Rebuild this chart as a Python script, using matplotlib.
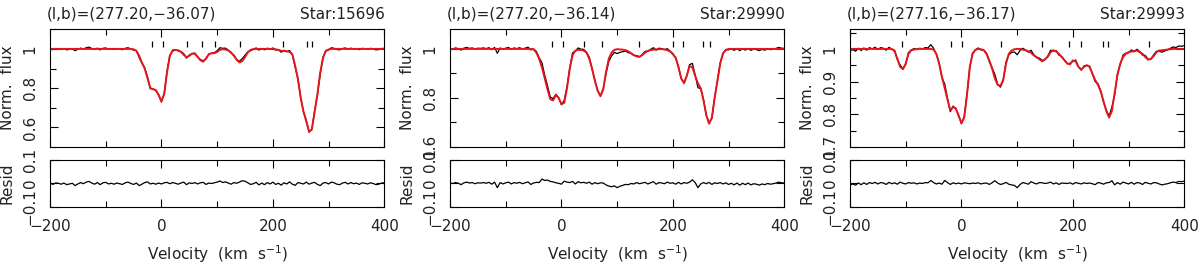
import numpy as np
import matplotlib
matplotlib.use('Agg')
from matplotlib import pyplot as plt
from matplotlib.ticker import MultipleLocator, FuncFormatter

# velocity grid of the spectra (km/s)
vel = np.arange(-200, 401, 5)

titles = ['(l,b)=(277.20,\u221236.07)', '(l,b)=(277.20,\u221236.14)', '(l,b)=(277.16,\u221236.17)']
stars = ['Star:15696', 'Star:29990', 'Star:29993']

# fitted model (red)
model_15696 = [1.0, 1.0, 1.0, 1.0, 1.0, 1.0, 1.0, 1.0, 1.0, 1.0,
               1.0, 1.0, 1.0, 1.0, 1.0, 1.0, 1.0, 1.0, 1.0, 1.0,
               1.0, 1.0, 1.0, 1.0, 1.0, 1.0, 1.0, 1.0, 1.0, 1.0,
               0.998, 0.99, 0.965, 0.93, 0.90, 0.85, 0.80, 0.795, 0.79, 0.765,
               0.732, 0.77, 0.88, 0.965, 0.99, 0.995, 0.993, 0.985, 0.97, 0.958,
               0.965, 0.976, 0.975, 0.96, 0.942, 0.935, 0.952, 0.972, 0.978, 0.978,
               0.985, 0.995, 0.999, 0.997, 0.992, 0.982, 0.965, 0.945, 0.931, 0.938,
               0.958, 0.982, 0.995, 0.999, 1.0, 1.0, 1.0, 1.0, 1.0, 1.0,
               0.999, 0.998, 0.995, 0.99, 0.99, 0.988, 0.985, 0.972, 0.915, 0.845,
               0.75, 0.68, 0.63, 0.578, 0.59, 0.68, 0.77, 0.88, 0.955, 0.988,
               0.997, 1.0, 1.0, 1.0, 1.0, 1.0, 1.0, 1.0, 1.0, 1.0,
               1.0, 1.0, 1.0, 1.0, 1.0, 1.0, 1.0, 1.0, 1.0, 1.0,
               1.0]
model_29990 = [1.0, 1.0, 1.0, 1.0, 1.0, 1.0, 1.0, 1.0, 1.0, 1.0,
               1.0, 1.0, 1.0, 1.0, 1.0, 1.0, 1.0, 1.0, 1.0, 1.0,
               1.0, 1.0, 1.0, 1.0, 1.0, 1.0, 1.0, 1.0, 1.0, 1.0,
               0.998, 0.985, 0.96, 0.925, 0.88, 0.835, 0.795, 0.79, 0.812, 0.80,
               0.775, 0.78, 0.84, 0.92, 0.975, 0.993, 0.996, 0.996, 0.993, 0.985,
               0.96, 0.92, 0.87, 0.83, 0.807, 0.835, 0.905, 0.96, 0.985, 0.996,
               0.999, 0.998, 0.997, 0.995, 0.99, 0.982, 0.975, 0.969, 0.968, 0.975,
               0.985, 0.992, 0.995, 0.997, 0.998, 0.999, 0.999, 0.998, 0.995, 0.99,
               0.978, 0.965, 0.925, 0.88, 0.86, 0.89, 0.93, 0.925, 0.89, 0.86,
               0.84, 0.79, 0.73, 0.695, 0.72, 0.80, 0.87, 0.94, 0.982, 0.995,
               1.0, 1.0, 1.0, 1.0, 1.0, 1.0, 1.0, 1.0, 1.0, 1.0,
               1.0, 1.0, 1.0, 1.0, 1.0, 1.0, 1.0, 1.0, 1.0, 1.0,
               1.0]
model_29993 = [1.0, 1.0, 1.0, 1.0, 1.0, 1.0, 1.0, 1.0, 1.0, 1.0,
               1.0, 1.0, 1.0, 1.0, 1.0, 1.0, 0.993, 0.97, 0.945, 0.938,
               0.955, 0.985, 0.996, 0.998, 1.0, 1.0, 1.0, 1.0, 1.0, 1.0,
               0.998, 0.985, 0.955, 0.915, 0.88, 0.845, 0.812, 0.822, 0.818, 0.795,
               0.773, 0.79, 0.86, 0.945, 0.985, 0.997, 1.0, 0.999, 0.996, 0.985,
               0.965, 0.94, 0.91, 0.89, 0.887, 0.905, 0.955, 0.985, 0.995, 0.999,
               1.0, 1.0, 0.998, 0.996, 0.993, 0.988, 0.98, 0.975, 0.968, 0.962,
               0.968, 0.976, 0.99, 0.996, 0.992, 0.985, 0.975, 0.965, 0.955, 0.953,
               0.965, 0.962, 0.945, 0.937, 0.945, 0.95, 0.945, 0.925, 0.905, 0.89,
               0.87, 0.84, 0.81, 0.79, 0.81, 0.865, 0.92, 0.955, 0.975, 0.985,
               0.99, 0.992, 0.994, 0.995, 0.99, 0.985, 0.975, 0.967, 0.97, 0.978,
               0.99, 0.995, 0.996, 0.997, 0.998, 0.999, 1.0, 1.0, 1.0, 1.0,
               1.0]

# residuals (data - model)
resid_15696 = [0.003, -0.004, 0.002, 0.001, -0.003, 0.002, -0.005, -0.002, 0.001, -0.009,
               -0.002, 0.004, -0.001, 0.006, 0.009, 0.002, -0.003, 0.004, -0.005, 0.003,
               0.005, -0.002, 0.001, -0.003, 0.002, -0.001, -0.004, 0.003, 0.006, 0.000,
               -0.004, 0.002, -0.009, -0.003, 0.004, 0.007, -0.002, 0.001, -0.003, 0.002,
               -0.002, 0.003, 0.005, -0.001, 0.004, 0.001, -0.003, 0.002, 0.006, -0.005,
               0.003, 0.000, 0.004, -0.002, 0.003, 0.005, -0.004, 0.002, 0.000, 0.003,
               0.006, 0.011, 0.004, 0.007, 0.002, -0.003, 0.004, 0.001, 0.006, 0.012,
               0.010, 0.003, -0.004, -0.001, 0.005, -0.006, 0.002, -0.005, 0.004, -0.002,
               0.006, -0.004, 0.001, -0.007, 0.003, -0.002, 0.007, -0.003, -0.008, 0.004,
               0.001, -0.002, 0.006, -0.003, 0.002, 0.005, -0.004, -0.009, 0.002, 0.004,
               -0.002, 0.006, 0.003, -0.003, -0.005, 0.002, 0.005, -0.002, 0.004, -0.001,
               0.002, -0.004, 0.003, 0.001, -0.002, 0.003, 0.000, -0.005, -0.003, 0.002,
               0.003]
resid_29990 = [0.002, 0.000, 0.004, 0.001, -0.005, 0.003, 0.006, 0.002, 0.004, -0.001,
               0.003, 0.002, 0.004, 0.001, 0.005, -0.003, 0.006, -0.018, 0.004, -0.002,
               0.003, 0.006, -0.002, 0.004, 0.001, 0.005, -0.001, 0.003, 0.007, -0.004,
               0.002, 0.005, 0.004, 0.019, 0.013, 0.015, 0.009, 0.007, 0.003, 0.001,
               -0.003, 0.010, 0.006, 0.004, 0.009, -0.002, 0.008, 0.003, 0.005, 0.001,
               0.006, -0.003, 0.004, -0.001, 0.003, 0.002, -0.006, -0.011, -0.014, -0.010,
               -0.018, -0.012, -0.008, -0.004, -0.005, 0.000, -0.002, 0.004, -0.001, 0.002,
               0.005, -0.002, 0.003, 0.008, -0.003, 0.004, 0.002, -0.001, 0.006, 0.001,
               0.003, -0.003, 0.005, -0.002, 0.004, 0.001, 0.006, 0.016, 0.004, -0.018,
               -0.002, 0.004, -0.001, 0.005, -0.004, 0.003, 0.000, 0.004, -0.002, 0.003,
               -0.004, 0.001, -0.006, 0.002, -0.007, 0.001, -0.005, 0.002, -0.006, -0.001,
               -0.003, -0.007, -0.002, -0.005, 0.000, -0.003, -0.001, 0.002, 0.006, 0.003,
               0.002]
resid_29993 = [-0.006, -0.002, -0.007, 0.002, -0.005, 0.003, -0.004, 0.004, 0.000, 0.005,
               -0.002, 0.004, 0.002, -0.004, 0.005, -0.001, 0.003, -0.003, 0.006, 0.001,
               -0.002, 0.004, 0.001, 0.003, -0.002, 0.002, 0.000, 0.004, 0.003, 0.013,
               0.004, -0.002, 0.002, -0.003, 0.013, 0.004, -0.004, 0.003, -0.001, 0.002,
               -0.002, 0.003, 0.001, -0.001, 0.002, 0.000, 0.003, -0.002, 0.001, 0.002,
               -0.004, 0.003, 0.012, 0.002, -0.004, -0.001, 0.005, -0.003, -0.006, -0.008,
               -0.018, -0.005, 0.004, 0.001, -0.003, 0.008, 0.002, -0.002, 0.004, 0.003,
               0.000, 0.002, 0.006, -0.002, 0.003, -0.004, 0.002, 0.001, 0.000, 0.003,
               -0.003, 0.004, 0.001, -0.002, 0.003, 0.000, 0.002, -0.001, -0.005, 0.004,
               0.002, -0.003, 0.003, 0.004, 0.012, -0.006, 0.004, -0.003, 0.006, 0.002,
               -0.002, 0.005, -0.003, 0.004, 0.002, -0.004, 0.005, 0.001, -0.002, 0.004,
               0.003, -0.002, -0.006, -0.003, -0.001, 0.003, 0.006, 0.004, 0.009, 0.008,
               0.010]

# velocities of the fitted components (tick marks)
comp_15696 = [-17.5, 2.2, 46.5, 72.8, 95.6, 141.0, 218.8, 260.7, 269.7]
comp_29990 = [-17.5, 3.4, 41.1, 72.2, 139.2, 199.7, 218.8, 253.5, 266.7]
comp_29993 = [-107.3, -18.7, 1.6, 70.4, 145.2, 192.5, 214.6, 254.7, 263.7, 337.3]

models = [model_15696, model_29990, model_29993]
resids = [resid_15696, resid_29990, resid_29993]
comps = [comp_15696, comp_29990, comp_29993]
ylims = [(0.5, 1.1), (0.6, 1.08), (0.7, 1.06)]
ymajor = [0.2, 0.2, 0.1]
yminor = [0.1, 0.1, 0.05]

plt.rcParams['font.family'] = 'DejaVu Sans'
plt.rcParams['font.size'] = 11
txt_col = '#222222'

W, H = 1200., 265.
fig = plt.figure(figsize=(12, 2.65), dpi=100)

def fmt(v, p):
    if abs(v) < 1e-9:
        return '0'
    return ('%g' % round(v, 3)).replace('-', '\u2212')

def style(ax):
    ax.tick_params(which='both', direction='in', top=True, right=True, width=0.8,
                   color='k', labelcolor=txt_col)
    ax.tick_params(which='major', length=6)
    ax.tick_params(which='minor', length=4)
    ax.tick_params(axis='y', labelrotation=90, pad=9)
    ax.tick_params(axis='x', pad=9)
    for s in ax.spines.values():
        s.set_linewidth(0.8)
    for lab in ax.get_yticklabels():
        lab.set_va('center')

for i in range(3):
    x0 = 50 + 400 * i
    ax = fig.add_axes([x0 / W, 1 - 147 / H, 334.3 / W, 117.7 / H])
    axr = fig.add_axes([x0 / W, 1 - 206.7 / H, 334.3 / W, 46.4 / H])

    model = np.array(models[i])
    res = np.array(resids[i])
    obs = model + res

    ax.plot(vel, obs, color='k', lw=0.9)
    ax.plot(vel, model, color='#e8141c', lw=1.4)
    ax.vlines(comps[i], 0.85, 0.90, color='k', lw=0.9, transform=ax.get_xaxis_transform())
    ax.set_xlim(-200, 400)
    ax.set_ylim(*ylims[i])
    ax.xaxis.set_major_locator(MultipleLocator(200))
    ax.xaxis.set_minor_locator(MultipleLocator(100))
    ax.yaxis.set_major_locator(MultipleLocator(ymajor[i]))
    ax.yaxis.set_minor_locator(MultipleLocator(yminor[i]))
    ax.yaxis.set_major_formatter(FuncFormatter(fmt))
    ax.set_xticklabels([])
    ax.set_ylabel('Norm.  flux', color=txt_col)
    ax.yaxis.set_label_coords(-0.105, 0.5)
    style(ax)
    ax.text(-0.01, 1.09, titles[i], transform=ax.transAxes, ha='left', va='baseline', color=txt_col)
    ax.text(1.002, 1.09, stars[i], transform=ax.transAxes, ha='right', va='baseline', color=txt_col)

    axr.plot(vel, res, color='k', lw=0.9)
    axr.set_xlim(-200, 400)
    axr.set_ylim(-0.1, 0.1)
    axr.xaxis.set_major_locator(MultipleLocator(200))
    axr.xaxis.set_minor_locator(MultipleLocator(100))
    axr.yaxis.set_major_locator(MultipleLocator(0.1))
    axr.xaxis.set_major_formatter(FuncFormatter(fmt))
    axr.yaxis.set_major_formatter(FuncFormatter(fmt))
    axr.set_ylabel('Resid', color=txt_col)
    axr.yaxis.set_label_coords(-0.105, 0.5)
    axr.set_xlabel('Velocity  (km  s$^{-1}$)', color=txt_col)
    axr.xaxis.set_label_coords(0.5, -0.78)
    style(axr)

fig.savefig('out.png', dpi=100)
